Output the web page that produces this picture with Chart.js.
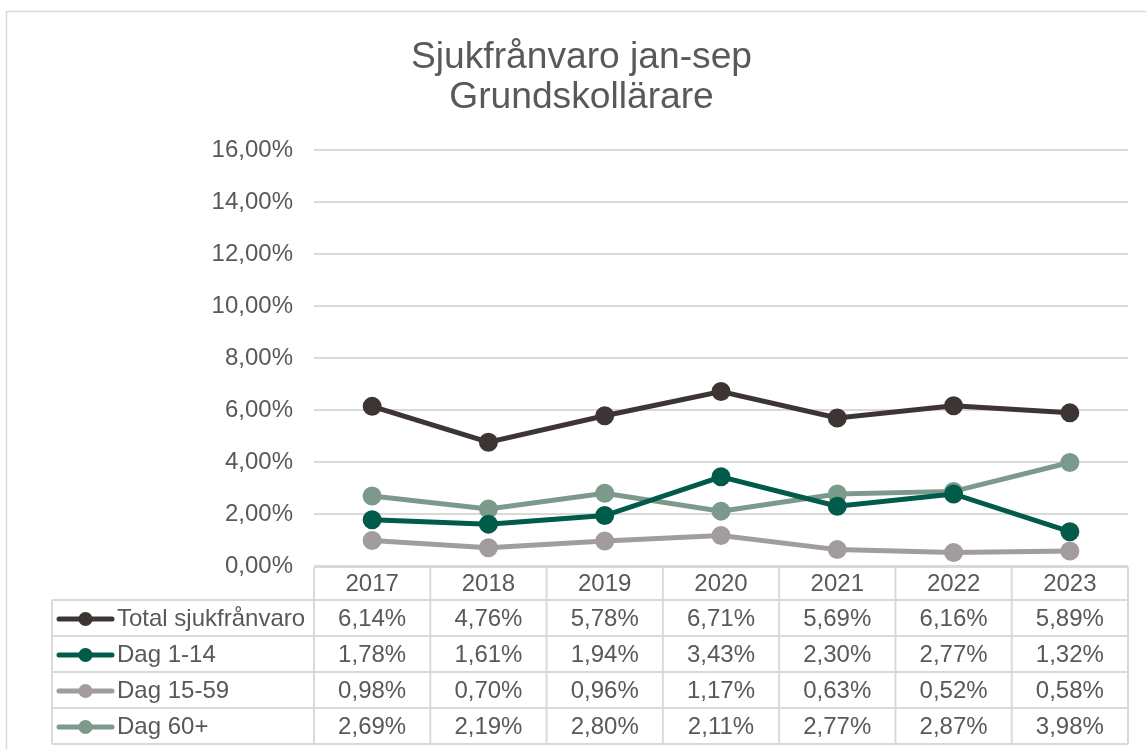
<!DOCTYPE html>
<html>
<head>
<meta charset="utf-8">
<script src="https://cdn.jsdelivr.net/npm/chart.js@4/dist/chart.umd.min.js"></script>
<style>
  html, body { margin: 0; padding: 0; background: #fff; }
  #wrap { width: 1146px; height: 749px; position: relative; }
</style>
</head>
<body>
<div id="wrap"><canvas id="data-chart" width="1146" height="749"></canvas></div>
<script>
var years = ['2017', '2018', '2019', '2020', '2021', '2022', '2023'];
var totalSjuk = [6.14, 4.76, 5.78, 6.71, 5.69, 6.16, 5.89];
var dag1to14 = [1.78, 1.61, 1.94, 3.43, 2.30, 2.77, 1.32];
var dag15to59 = [0.98, 0.70, 0.96, 1.17, 0.63, 0.52, 0.58];
var dag60plus = [2.69, 2.19, 2.80, 2.11, 2.77, 2.87, 3.98];
var titleLines = ['Sjukfrånvaro jan-sep', 'Grundskollärare'];

var FONT = '"Liberation Sans", Arial, sans-serif';
var TEXT = '#595959';
var GRID = '#d9d9d9';

function pct(v) {
    return v.toFixed(2).replace('.', ',') + '%';
}

function series(label, values, color) {
    return {
        label: label,
        data: values,
        borderColor: color,
        backgroundColor: color,
        pointBackgroundColor: color,
        pointBorderColor: color,
        borderWidth: 5,
        pointRadius: 7,
        pointHoverRadius: 7,
        tension: 0,
        fill: false
    };
}

// title, outer frame and the data table under the plot
var excelExtras = {
    id: 'excelExtras',
    beforeDraw: function (chart) {
        var c = chart.ctx;
        c.save();
        c.fillStyle = '#fff';
        c.fillRect(0, 0, chart.width, chart.height);
        c.strokeStyle = GRID;
        c.lineWidth = 1.5;
        c.strokeRect(6.5, 11.5, chart.width + 10, chart.height + 10);
        c.restore();
    },
    afterDraw: function (chart) {
        var c = chart.ctx;
        var x = chart.scales.x;
        var area = chart.chartArea;
        var colW = (area.right - area.left) / years.length;
        var tableLeft = 52;
        var rowTops = [area.bottom + 1, 600, 636, 672, 708, 744];

        c.save();
        // title
        c.fillStyle = TEXT;
        c.font = '37.2px ' + FONT;
        c.textAlign = 'center';
        c.textBaseline = 'middle';
        titleLines.forEach(function (t, i) {
            c.fillText(t, 581.5, 58 + i * 40);
        });

        // table grid
        c.strokeStyle = GRID;
        c.lineWidth = 2;
        c.beginPath();
        rowTops.forEach(function (y, i) {
            c.moveTo(i === 0 ? area.left : tableLeft, y);
            c.lineTo(area.right, y);
        });
        c.moveTo(tableLeft, rowTops[1]);
        c.lineTo(tableLeft, rowTops[5]);
        for (var k = 0; k <= years.length; k++) {
            var vx = area.left + k * colW;
            c.moveTo(vx, rowTops[0]);
            c.lineTo(vx, rowTops[5]);
        }
        c.stroke();

        // header years
        c.font = '24px ' + FONT;
        c.fillStyle = TEXT;
        c.textAlign = 'center';
        years.forEach(function (y, i) {
            c.fillText(y, x.getPixelForValue(i), (rowTops[0] + rowTops[1]) / 2 + 1);
        });

        // series rows
        chart.data.datasets.forEach(function (ds, r) {
            var cy = (rowTops[r + 1] + rowTops[r + 2]) / 2 + 1;
            // legend key
            c.strokeStyle = ds.borderColor;
            c.lineWidth = 5;
            c.lineCap = 'round';
            c.beginPath();
            c.moveTo(59, cy);
            c.lineTo(112, cy);
            c.stroke();
            c.fillStyle = ds.borderColor;
            c.beginPath();
            c.arc(85.5, cy, 7, 0, Math.PI * 2);
            c.fill();
            // label
            c.fillStyle = TEXT;
            c.textAlign = 'left';
            c.fillText(ds.label, 117, cy);
            // values
            c.textAlign = 'center';
            ds.data.forEach(function (v, i) {
                c.fillText(pct(v), x.getPixelForValue(i), cy);
            });
        });
        c.restore();
    }
};

var ctx = document.getElementById('data-chart').getContext('2d');
var chart = new Chart(ctx, {
    type: 'line',
    data: {
        labels: years,
        datasets: [
            series('Total sjukfrånvaro', totalSjuk, '#3d3533'),
            series('Dag 1-14', dag1to14, '#005b4a'),
            series('Dag 15-59', dag15to59, '#a29d9c'),
            series('Dag 60+', dag60plus, '#7b9a8b')
        ]
    },
    options: {
        responsive: false,
        animation: false,
        layout: {
            padding: { left: 0, top: 150, right: 18, bottom: 183 }
        },
        plugins: {
            legend: { display: false },
            title: { display: false },
            tooltip: { enabled: false }
        },
        scales: {
            x: {
                display: false,
                offset: true
            },
            y: {
                min: 0,
                max: 16,
                ticks: {
                    stepSize: 2,
                    padding: 21,
                    color: TEXT,
                    font: { family: FONT, size: 24 },
                    callback: function (v) { return pct(v); }
                },
                grid: {
                    color: GRID,
                    lineWidth: 2,
                    drawTicks: false
                },
                border: { display: false },
                afterFit: function (scale) { scale.width = 314; }
            }
        }
    },
    plugins: [excelExtras]
});
</script>
</body>
</html>
